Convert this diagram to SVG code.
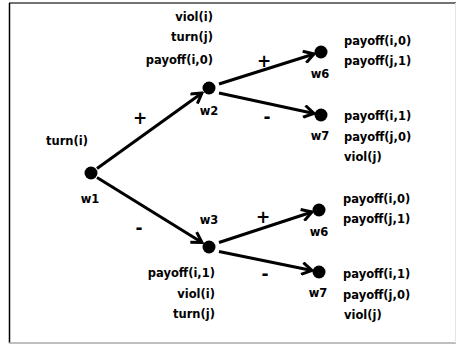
<svg xmlns="http://www.w3.org/2000/svg" width="457" height="344" viewBox="0 0 457 344">
<defs>
<marker id="arr" markerUnits="userSpaceOnUse" markerWidth="14" markerHeight="14" viewBox="-12 -7 14 14" refX="0" refY="0" orient="auto">
<path d="M-10,-6 L0,0 L-10,6" fill="none" stroke="#000" stroke-width="3" stroke-linecap="butt" stroke-linejoin="miter"/>
</marker>
<style>
text{font-family:"DejaVu Sans",sans-serif;font-weight:bold;font-size:11.5px;fill:#000}
.r{text-anchor:end}
.m{text-anchor:middle}
.s{font-size:17px;font-weight:bold}
.e{stroke:#000;stroke-width:3;fill:none;marker-end:url(#arr)}
.n{fill:#000}
</style>
</defs>
<rect x="0" y="0" width="457" height="344" fill="#fff"/>
<g id="frame">
<line x1="9" y1="3" x2="456" y2="3" stroke="#444" stroke-width="1.5"/>
<line x1="9.5" y1="3" x2="9.5" y2="343" stroke="#000" stroke-width="1.5"/>
<line x1="9" y1="343" x2="456" y2="343" stroke="#aaa" stroke-width="1.5"/>
<line x1="455.5" y1="3" x2="455.5" y2="343" stroke="#e4e4e4" stroke-width="1"/>
</g>
<g id="connectors">
<line class="e" x1="97" y1="168.5" x2="202" y2="93"/>
<text class="s m" x="140" y="124">+</text>
<line class="e" x1="97" y1="177.5" x2="202" y2="242.5"/>
<text class="s m" x="139" y="234">-</text>
<line class="e" x1="219" y1="84" x2="314" y2="54"/>
<text class="s m" x="264" y="67">+</text>
<line class="e" x1="219" y1="93" x2="314" y2="113.5"/>
<text class="s m" x="267" y="123">-</text>
<line class="e" x1="219" y1="242.5" x2="312" y2="212"/>
<text class="s m" x="263" y="223">+</text>
<line class="e" x1="219" y1="251.5" x2="312" y2="270.5"/>
<text class="s m" x="265" y="280">-</text>
</g>
<g id="w1">
<circle class="n" cx="91" cy="173" r="6.5"/>
<text class="m" x="90" y="203">w1</text>
<text class="m" x="67" y="145">turn(i)</text>
</g>
<g id="w2">
<circle class="n" cx="209" cy="88" r="6.5"/>
<text class="m" x="209" y="115">w2</text>
<text class="r" x="213" y="21">viol(i)</text>
<text class="r" x="213" y="41">turn(j)</text>
<text class="r" x="213" y="64">payoff(i,0)</text>
</g>
<g id="w3">
<circle class="n" cx="209" cy="247" r="6.5"/>
<text class="m" x="209" y="224">w3</text>
<text class="r" x="215" y="277">payoff(i,1)</text>
<text class="r" x="215" y="298">viol(i)</text>
<text class="r" x="215" y="318">turn(j)</text>
</g>
<g id="w6a">
<circle class="n" cx="321" cy="52" r="6.5"/>
<text class="m" x="320" y="78">w6</text>
<text x="344" y="45">payoff(i,0)</text>
<text x="344" y="65">payoff(j,1)</text>
</g>
<g id="w7a">
<circle class="n" cx="321" cy="115" r="6.5"/>
<text class="m" x="320" y="140">w7</text>
<text x="344" y="120">payoff(i,1)</text>
<text x="344" y="141">payoff(j,0)</text>
<text x="344" y="161">viol(j)</text>
</g>
<g id="w6b">
<circle class="n" cx="319" cy="210" r="6.5"/>
<text class="m" x="319" y="236">w6</text>
<text x="343" y="203">payoff(i,0)</text>
<text x="343" y="223">payoff(j,1)</text>
</g>
<g id="w7b">
<circle class="n" cx="319" cy="272" r="6.5"/>
<text class="m" x="318" y="297">w7</text>
<text x="343" y="278">payoff(i,1)</text>
<text x="343" y="299">payoff(j,0)</text>
<text x="344" y="319">viol(j)</text>
</g>
</svg>
